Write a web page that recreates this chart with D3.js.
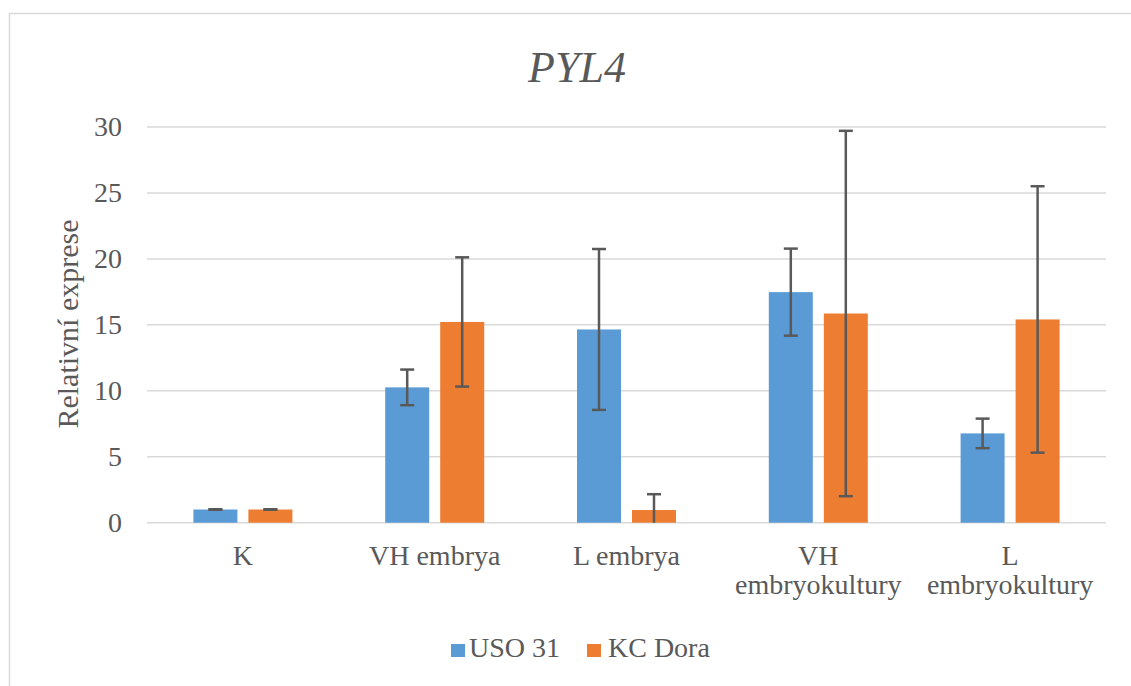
<!DOCTYPE html>
<html><head><meta charset="utf-8">
<script src="https://cdn.jsdelivr.net/npm/d3@7"></script>
<style>body{margin:0;background:#fff;}</style>
</head><body>
<svg id="c" width="1131" height="686"></svg>
<script>
const categories = [["K"],["VH embrya"],["L embrya"],["VH","embryokultury"],["L","embryokultury"]];
const seriesNames = ["USO 31","KC Dora"];
const uso31 = [1.0, 10.26, 14.65, 17.48, 6.77];
const uso31Err = [0.02, 1.35, 6.1, 3.3, 1.12];
const kcDora = [1.0, 15.22, 0.96, 15.86, 15.41];
const kcDoraErr = [0.02, 4.9, 1.2, 13.85, 10.1];
const yTicks = [0,5,10,15,20,25,30];
const colors = ["#5B9BD5","#ED7D31"];

(function(){
const FONT = "'Liberation Serif', 'Times New Roman', Times, serif";
const svg = d3.select("#c");
svg.append("rect").attr("x",9.5).attr("y",13.5).attr("width",1200).attr("height",800)
  .attr("fill","none").attr("stroke","#d9d9d9").attr("stroke-width",1.5);

const pLeft=147, pRight=1106, pTop=127, pBottom=522.7;
const y = d3.scaleLinear().domain([0,30]).range([pBottom,pTop]);
const x = d3.scaleBand().domain(d3.range(categories.length)).range([pLeft,pRight]);
const barW = 44, gap = 11;

svg.append("g").selectAll("line").data(yTicks).join("line")
  .attr("x1",pLeft).attr("x2",pRight).attr("y1",d=>y(d)).attr("y2",d=>y(d))
  .attr("stroke","#d9d9d9").attr("stroke-width",1.5);

const ya = svg.append("g").attr("transform",`translate(${pLeft},0)`)
  .call(d3.axisLeft(y).tickValues(yTicks).tickSize(0).tickPadding(25));
ya.attr("font-family",null).attr("font-size",null);
ya.select(".domain").remove();
ya.selectAll("text").style("font-size","28px");

svg.append("text").attr("x",577).attr("y",82).attr("text-anchor","middle")
  .style("font-size","44px").style("font-style","italic").text("PYL4");

svg.append("text").attr("transform","translate(78,324) rotate(-90)").attr("text-anchor","middle")
  .style("font-size","30px").text("Relativní exprese");

const series = [
  {vals:uso31, err:uso31Err, off:-(gap/2+barW/2)},
  {vals:kcDora, err:kcDoraErr, off:(gap/2+barW/2)}
];
svg.append("clipPath").attr("id","pc").append("rect")
  .attr("x",0).attr("y",0).attr("width",1131).attr("height",pBottom);

series.forEach((s,si)=>{
  const cx = i => x(i)+x.bandwidth()/2 + s.off;
  svg.append("g").selectAll("rect").data(s.vals).join("rect")
    .attr("x",(d,i)=>cx(i)-barW/2).attr("width",barW)
    .attr("y",d=>y(d)).attr("height",d=>y(0)-y(d))
    .attr("fill",colors[si]);
});
series.forEach((s,si)=>{
  const cx = i => x(i)+x.bandwidth()/2 + s.off;
  const eg = svg.append("g").attr("clip-path","url(#pc)")
    .attr("stroke","#595959").attr("stroke-width",2.5);
  s.vals.forEach((v,i)=>{
    const hi=v+s.err[i], lo=v-s.err[i];
    eg.append("line").attr("x1",cx(i)).attr("x2",cx(i)).attr("y1",y(hi)).attr("y2",y(lo));
    eg.append("line").attr("x1",cx(i)-7).attr("x2",cx(i)+7).attr("y1",y(hi)).attr("y2",y(hi));
    eg.append("line").attr("x1",cx(i)-7).attr("x2",cx(i)+7).attr("y1",y(lo)).attr("y2",y(lo));
  });
});

const xl = svg.append("g");
categories.forEach((lines,i)=>{
  const t = xl.append("text").attr("x",x(i)+x.bandwidth()/2).attr("y",565)
    .attr("text-anchor","middle").style("font-size","28px");
  lines.forEach((ln,k)=>t.append("tspan").attr("x",x(i)+x.bandwidth()/2).attr("dy",k?29:0).text(ln));
});

const leg = [{x:451,tx:469},{x:587,tx:608}];
seriesNames.forEach((n,i)=>{
  svg.append("rect").attr("x",leg[i].x).attr("y",644).attr("width",14).attr("height",13).attr("fill",colors[i]);
  svg.append("text").attr("x",leg[i].tx).attr("y",657).style("font-size","28px").text(n);
});

svg.selectAll("text").style("font-family",FONT).attr("fill","#595959");
})();
</script>
</body></html>
